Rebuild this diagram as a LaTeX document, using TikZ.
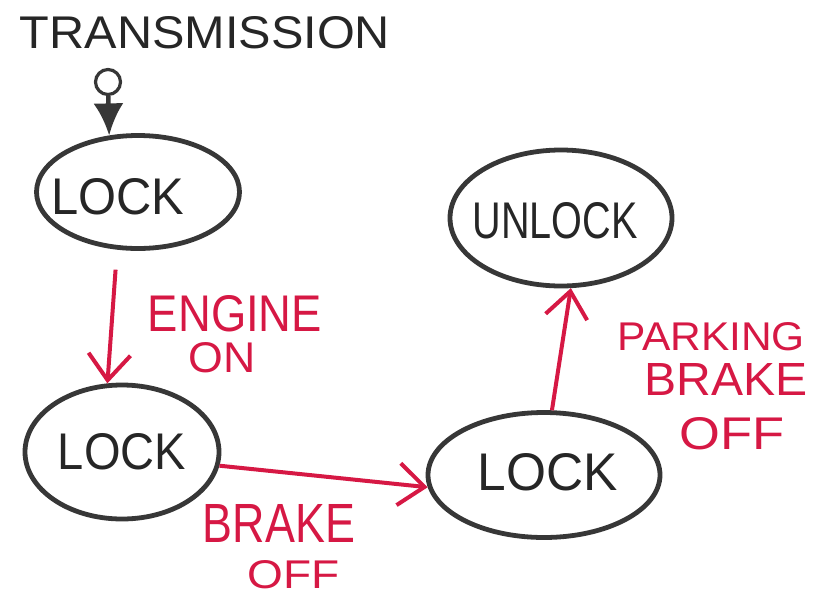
\documentclass[tikz,border=0pt]{standalone}
\usepackage{fontspec}
\setmainfont{Liberation Sans}
\usepackage{graphicx}
\usetikzlibrary{shapes.geometric,arrows.meta}
\definecolor{ink}{RGB}{55,55,55}
\definecolor{pen}{RGB}{214,24,68}
% lettering boxed to a given width and cap height
\newcommand{\hand}[3]{\resizebox{#1pt}{#2pt}{#3}}

\begin{document}
\begin{tikzpicture}[x=1pt,y=-1pt,
  state/.style={draw=ink, line width=4.8pt, ellipse, inner sep=0pt},
  statetext/.style={text=black!85, inner sep=0pt},
  cue/.style={text=pen, inner sep=0pt},
  move/.style={draw=pen, line width=4pt,
    -{Straight Barb[length=26pt,width=42pt]}},
]
\useasboundingbox (0,0) rectangle (827,598);

% title
\node[statetext] (title) at (205,33) {\hand{370}{32}{TRANSMISSION}};

% states
\node[state, minimum width=203pt, minimum height=113pt,
      label={[statetext, xshift=-20pt, yshift=-5pt]center:\hand{133}{36}{LOCK}}]
      (e1) at (138,192) {};
\node[state, minimum width=194pt, minimum height=134pt,
      label={[statetext]center:\hand{128}{36}{LOCK}}]
      (e2) at (122,452) {};
\node[state, minimum width=232pt, minimum height=125pt,
      label={[statetext, xshift=4pt, yshift=3pt]center:\hand{140}{37}{LOCK}}]
      (e3) at (544,475) {};
\node[state, minimum width=222pt, minimum height=136pt,
      label={[statetext, xshift=-6pt, yshift=-3pt]center:\hand{165}{36}{UNLOCK}}]
      (e4) at (561,218) {};

% initial pseudo-state
\node[draw=ink, circle, line width=3.2pt, minimum size=25pt, inner sep=0pt]
      (init) at (108,82) {};
\draw[ink, line width=4.5pt, -{Latex[length=32pt,width=30pt]}] (init) -- (e1.117);

% transitions
\draw[move, shorten <=20pt] (e1.-110) -- (e2.102);
\draw[move] (e2.-8) -- (e3.186);
\draw[move] (e3.83) -- (e4.-82);

% transition labels
\node[cue] (cueA1) at (235,314) {\hand{174}{36}{ENGINE}};
\node[cue] (cueA2) at (222,358) {\hand{67}{30}{ON}};
\node[cue] (cueB1) at (279,523) {\hand{152}{38}{BRAKE}};
\node[cue] (cueB2) at (294,575) {\hand{92}{28}{OFF}};
\node[cue] (cueC1) at (711,337) {\hand{188}{28}{PARKING}};
\node[cue] (cueC2) at (726,379) {\hand{163}{32}{BRAKE}};
\node[cue] (cueC3) at (732,434) {\hand{105}{32}{OFF}};
\end{tikzpicture}
\end{document}
